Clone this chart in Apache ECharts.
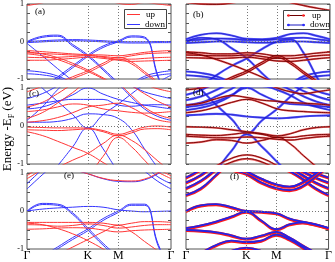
<!DOCTYPE html>
<html><head><meta charset="utf-8">
<script src="https://cdn.jsdelivr.net/npm/echarts@6/dist/echarts.min.js"></script>
<style>html,body{margin:0;padding:0;background:#fff}#c{width:335px;height:262px}</style>
</head><body><div id="c"></div>
<script>
// k-path sample positions (Γ=0, K=1, M=1.5, Γ=2.366)
const kPath = [0, 0.25, 0.5, 0.75, 1.0, 1.25, 1.5, 1.72, 1.93, 2.15, 2.366];
const xTickValues = [0, 1.0, 1.5, 2.366];
const xTickLabels = ['Γ', 'K', 'M', 'Γ'];
const yLabelValues = [-1, 0, 1];
const panelLetters = ['(a)', '(b)', '(c)', '(d)', '(e)', '(f)'];
const spinNames = ['up', 'down'];
const yTitle = ['Energy -E', 'F', ' (eV)'];

// Panel (a)
const aUp = [
  [0.96, 1.03, 1.15, 1.3, 1.35, 1.15, 1.02, 0.99, 1.04, 1.0, 0.96],
  [-0.24, -0.27, -0.3, -0.33, -0.35, -0.36, -0.38, -0.34, -0.29, -0.26, -0.24],
  [-0.3, -0.32, -0.34, -0.36, -0.37, -0.4, -0.43, -0.38, -0.33, -0.31, -0.3],
  [-0.42, -0.43, -0.42, -0.4, -0.38, -0.42, -0.47, -0.47, -0.45, -0.43, -0.42],
  [-0.5, -0.5, -0.48, -0.45, -0.42, -0.45, -0.5, -0.53, -0.52, -0.51, -0.5],
  [-0.28, -0.33, -0.43, -0.58, -0.76, -0.97, -1.2, -1.4, -1.5, -1.45, -1.4],
  [-0.33, -0.38, -0.48, -0.63, -0.8, -1.0, -1.25, -1.45, -1.55, -1.5, -1.45],
  [-1.6, -1.35, -1.12, -0.94, -0.78, -0.58, -0.42, -0.55, -0.8, -1.08, -1.35],
  [-1.65, -1.4, -1.17, -0.99, -0.83, -0.63, -0.47, -0.6, -0.85, -1.12, -1.4]
];
const aDown = [
  [0.0, 0.02, 0.04, 0.05, 0.04, 0.02, 0.0, -0.01, -0.01, 0.0, 0.0],
  [-0.03, -0.01, 0.01, 0.02, 0.01, -0.01, -0.03, -0.04, -0.04, -0.03, -0.03],
  [0.0, 0.14, 0.17, -0.08, -0.36, -0.72, -1.1, -1.4, -1.5, -1.4, -1.3],
  [-0.02, 0.11, 0.14, -0.12, -0.4, -0.76, -1.15, -1.45, -1.55, -1.45, -1.35],
  [-1.6, -1.25, -0.95, -0.65, -0.36, -0.12, 0.02, 0.15, 0.12, -0.9, -1.8],
  [-1.65, -1.3, -1.0, -0.7, -0.4, -0.16, -0.01, 0.12, 0.09, -0.95, -1.85],
  [-0.78, -0.82, -0.92, -1.1, -1.3, -1.4, -1.3, -1.12, -0.93, -0.83, -0.78],
  [-0.86, -0.89, -0.97, -1.15, -1.35, -1.45, -1.35, -1.18, -0.98, -0.9, -0.86],
  [-0.05, -0.38, -0.72, -1.05, -1.4, -1.6, -1.7, -1.6, -1.4, -1.1, -0.9]
];
// Panel (b)
const bUp = [
  [1.05, 1.0, 0.99, 1.03, 1.12, 1.2, 1.15, 1.04, 0.96, 0.89, 0.83],
  [-0.28, -0.3, -0.33, -0.33, -0.3, -0.33, -0.38, -0.38, -0.35, -0.31, -0.28],
  [-0.36, -0.37, -0.38, -0.38, -0.36, -0.4, -0.45, -0.45, -0.42, -0.38, -0.36],
  [-0.43, -0.44, -0.45, -0.44, -0.42, -0.46, -0.52, -0.53, -0.5, -0.46, -0.43],
  [-0.3, -0.36, -0.48, -0.62, -0.78, -0.95, -1.15, -1.35, -1.45, -1.4, -1.35],
  [-1.65, -1.4, -1.15, -0.95, -0.78, -0.55, -0.38, -0.55, -0.8, -1.05, -1.3],
  [-1.7, -1.45, -1.2, -1.0, -0.83, -0.6, -0.43, -0.6, -0.85, -1.1, -1.35]
];
const bDown = [
  [0.06, 0.18, 0.22, 0.16, 0.07, 0.06, 0.1, 0.2, 0.22, 0.15, 0.06],
  [0.02, 0.05, 0.08, 0.07, 0.04, 0.04, 0.06, 0.09, 0.1, 0.06, 0.02],
  [-0.04, -0.02, 0.0, 0.0, -0.02, -0.03, -0.02, 0.0, 0.0, -0.02, -0.04],
  [0.0, 0.1, 0.06, -0.18, -0.45, -0.85, -1.2, -1.45, -1.5, -1.45, -1.4],
  [-1.6, -1.2, -0.9, -0.65, -0.45, -0.2, 0.0, 0.05, -0.3, -0.95, -1.5],
  [-0.8, -0.84, -0.93, -1.1, -1.3, -1.4, -1.3, -1.12, -0.93, -0.84, -0.8],
  [-0.9, -0.93, -1.0, -1.15, -1.35, -1.45, -1.35, -1.18, -1.0, -0.93, -0.9]
];
// Panel (c)
const cUp = [
  [-0.03, -0.04, -0.05, -0.05, -0.06, -0.12, -0.22, -0.13, -0.03, 0.0, -0.03],
  [-0.1, -0.11, -0.12, -0.1, -0.08, -0.15, -0.26, -0.18, -0.08, -0.07, -0.1],
  [-0.15, -0.25, -0.4, -0.56, -0.72, -0.96, -1.2, -1.4, -1.5, -1.45, -1.4],
  [-1.6, -1.35, -1.1, -0.9, -0.72, -0.46, -0.24, -0.38, -0.62, -0.92, -1.2],
  [-2.0, -1.9, -1.8, -1.6, -1.3, -0.8, -0.3, -0.55, -0.9, -1.25, -1.5],
  [0.2, 0.35, 0.6, 0.88, 1.15, 1.2, 1.1, 0.8, 0.5, 0.3, 0.2],
  [0.38, 0.42, 0.5, 0.58, 0.55, 0.45, 0.4, 0.36, 0.34, 0.35, 0.38],
  [0.9, 1.05, 1.25, 1.4, 1.5, 1.45, 1.35, 1.25, 1.1, 0.98, 0.9],
  [0.5, 0.62, 0.85, 1.1, 1.3, 1.3, 1.2, 1.05, 0.85, 0.65, 0.5],
  [0.1, 0.14, 0.22, 0.35, 0.5, 0.55, 0.6, 0.48, 0.3, 0.16, 0.1]
];
const cDown = [
  [1.4, 1.0, 0.65, 0.3, -0.05, 0.3, 0.58, 0.85, 1.1, 1.3, 1.4],
  [-2.0, -1.5, -1.05, -0.55, -0.05, -0.6, -1.2, -1.6, -1.8, -1.9, -2.0],
  [0.45, 0.5, 0.64, 0.82, 1.0, 0.84, 0.7, 0.62, 0.55, 0.5, 0.45],
  [0.55, 0.6, 0.66, 0.7, 0.7, 0.7, 0.55, 0.52, 0.55, 0.56, 0.55],
  [0.15, 0.5, 0.95, 1.3, 1.5, 1.4, 1.1, 0.75, 0.45, 0.25, 0.15],
  [0.72, 0.85, 1.05, 1.25, 1.4, 1.35, 1.2, 1.05, 0.9, 0.8, 0.72],
  [0.1, 0.1, 0.12, 0.2, 0.32, 0.3, 0.2, -0.1, -0.6, -1.1, -1.5]
];
// Panel (d)
const dUp = [
  [-0.02, -0.03, -0.05, -0.1, -0.15, -0.2, -0.26, -0.2, -0.1, -0.04, -0.02],
  [-0.22, -0.24, -0.25, -0.22, -0.18, -0.22, -0.3, -0.3, -0.26, -0.23, -0.22],
  [-0.27, -0.29, -0.31, -0.31, -0.29, -0.31, -0.35, -0.37, -0.33, -0.29, -0.27],
  [-0.45, -0.42, -0.36, -0.38, -0.45, -0.38, -0.3, -0.48, -0.78, -1.08, -1.35],
  [-1.6, -1.35, -1.05, -0.85, -0.76, -0.85, -1.05, -1.3, -1.5, -1.6, -1.6],
  [-1.7, -1.45, -1.15, -0.95, -0.86, -0.95, -1.15, -1.4, -1.6, -1.7, -1.7],
  [0.55, 0.6, 0.72, 0.8, 0.75, 0.68, 0.65, 0.62, 0.6, 0.58, 0.55],
  [0.35, 0.4, 0.5, 0.62, 0.7, 0.6, 0.45, 0.4, 0.38, 0.36, 0.35],
  [0.95, 1.0, 1.1, 1.2, 1.25, 1.15, 1.0, 0.9, 0.85, 0.9, 0.95]
];
const dDown = [
  [1.3, 0.95, 0.55, 0.18, -0.2, 0.15, 0.45, 0.78, 1.05, 1.25, 1.3],
  [-2.0, -1.6, -1.15, -0.65, -0.22, -0.55, -0.95, -1.3, -1.6, -1.8, -2.0],
  [0.5, 0.55, 0.65, 0.82, 1.0, 0.82, 0.65, 0.58, 0.56, 0.53, 0.5],
  [0.82, 0.95, 1.15, 1.35, 1.5, 1.5, 1.45, 1.3, 1.1, 0.92, 0.82],
  [0.68, 0.78, 0.95, 1.15, 1.35, 1.35, 1.25, 1.1, 0.92, 0.78, 0.68],
  [0.55, 0.62, 0.78, 0.98, 1.2, 1.2, 1.1, 0.95, 0.78, 0.64, 0.55],
  [0.42, 0.48, 0.6, 0.8, 1.05, 1.05, 0.95, 0.8, 0.62, 0.5, 0.42],
  [0.28, 0.3, 0.32, 0.3, 0.25, 0.22, 0.2, 0.22, 0.25, 0.27, 0.28]
];
// Panel (e)
const eUp = [
  [0.93, 1.2, 1.5, 1.7, 1.8, 1.7, 1.6, 1.5, 1.3, 1.1, 0.93],
  [0.85, 1.1, 1.4, 1.6, 1.7, 1.6, 1.5, 1.4, 1.2, 1.02, 0.85],
  [1.5, 1.4, 1.25, 1.1, 0.98, 0.86, 0.8, 0.79, 0.84, 1.0, 1.2],
  [-0.3, -0.3, -0.3, -0.3, -0.3, -0.32, -0.37, -0.32, -0.28, -0.28, -0.3],
  [-0.36, -0.37, -0.4, -0.38, -0.34, -0.38, -0.45, -0.42, -0.38, -0.36, -0.36],
  [-0.48, -0.47, -0.45, -0.44, -0.45, -0.5, -0.55, -0.52, -0.5, -0.49, -0.48],
  [-0.32, -0.36, -0.46, -0.6, -0.78, -1.0, -1.25, -1.45, -1.55, -1.5, -1.45],
  [-1.6, -1.4, -1.15, -0.95, -0.75, -0.55, -0.38, -0.55, -0.8, -1.05, -1.3]
];
const eDown = [
  [0.0, 0.05, 0.08, 0.1, 0.12, 0.1, 0.03, 0.0, -0.02, -0.01, 0.0],
  [0.0, 0.2, 0.18, -0.05, -0.45, -0.85, -1.2, -1.45, -1.55, -1.5, -1.45],
  [-0.02, 0.17, 0.15, -0.09, -0.5, -0.9, -1.25, -1.5, -1.6, -1.55, -1.5],
  [-1.5, -1.2, -0.95, -0.7, -0.47, -0.2, 0.0, 0.18, 0.18, -0.85, -1.6],
  [-1.55, -1.25, -1.0, -0.75, -0.52, -0.25, -0.04, 0.15, 0.15, -0.9, -1.65],
  [0.72, 1.1, 1.5, 1.8, 1.9, 1.8, 1.6, 1.4, 1.2, 0.9, 0.72],
  [0.58, 0.95, 1.3, 1.6, 1.8, 1.7, 1.5, 1.3, 1.05, 0.78, 0.58],
  [1.5, 1.4, 1.25, 1.1, 0.98, 0.85, 0.78, 0.77, 0.82, 0.98, 1.2]
];
// Panel (f): both spin channels coincide
const fBands = [
  [0.0, 0.15, 0.18, 0.1, 0.0, -0.02, -0.06, -0.2, -0.28, -0.35, -0.45],
  [-0.45, -0.38, -0.28, -0.15, -0.02, -0.25, -0.48, -0.35, -0.3, -0.36, -0.45],
  [-0.5, -0.52, -0.56, -0.64, -0.73, -0.65, -0.55, -0.7, -0.9, -1.1, -1.3],
  [-1.3, -1.1, -0.9, -0.78, -0.82, -0.78, -0.62, -0.75, -0.95, -1.2, -1.4],
  [-2.0, -1.6, -1.25, -1.05, -0.97, -1.05, -1.25, -1.5, -1.7, -1.8, -1.9],
  [0.88, 1.1, 1.4, 1.6, 1.7, 1.6, 1.5, 1.35, 1.15, 1.0, 0.88],
  [0.75, 0.95, 1.25, 1.5, 1.6, 1.5, 1.4, 1.25, 1.05, 0.88, 0.75],
  [0.6, 0.8, 1.1, 1.4, 1.5, 1.4, 1.3, 1.15, 0.95, 0.75, 0.6],
  [0.42, 0.6, 0.95, 1.3, 1.45, 1.35, 1.2, 1.05, 0.85, 0.6, 0.42],
  [1.6, 1.5, 1.3, 1.1, 0.98, 0.75, 0.6, 0.55, 0.65, 0.9, 1.2],
  [1.65, 1.55, 1.38, 1.18, 1.04, 0.85, 0.7, 0.64, 0.75, 0.98, 1.28]
];

const panels = [
  {up: aUp, down: aDown, kind: 'thin'},
  {up: bUp, down: bDown, kind: 'fat'},
  {up: cUp, down: cDown, kind: 'thin'},
  {up: dUp, down: dDown, kind: 'fat'},
  {up: eUp, down: eDown, kind: 'thin'},
  {up: fBands, down: fBands, kind: 'same'}
];

const FONT = '"Liberation Serif", "DejaVu Serif", serif';
const gridPos = [
  {left: 27, top: 4, width: 144, height: 75},
  {left: 186, top: 4, width: 144, height: 75},
  {left: 27, top: 88, width: 144, height: 76},
  {left: 186, top: 88, width: 144, height: 76},
  {left: 27, top: 173, width: 144, height: 76},
  {left: 186, top: 173, width: 144, height: 76}
];

const grid = [], xAxis = [], yAxis = [], series = [];
gridPos.forEach((g, i) => {
  grid.push(Object.assign({show: true, borderColor: '#555', borderWidth: 1, backgroundColor: 'transparent'}, g));
  const bottomRow = i >= 4;
  xAxis.push({
    type: 'value', gridIndex: i, min: kPath[0], max: kPath[kPath.length - 1],
    axisLine: {show: false}, axisTick: {show: false}, splitLine: {show: false},
    axisLabel: bottomRow ? {
      show: true, customValues: xTickValues, margin: 1,
      fontFamily: FONT, fontSize: 12, color: '#000',
      formatter: v => { let best = 0; xTickValues.forEach((t, j) => { if (Math.abs(t - v) < Math.abs(xTickValues[best] - v)) best = j; }); return xTickLabels[best]; }
    } : {show: false}
  });
  const leftCol = i % 2 === 0;
  yAxis.push({
    type: 'value', gridIndex: i, min: -1, max: 1, interval: 0.25, position: 'left',
    axisLine: {show: false}, splitLine: {show: false},
    axisTick: {show: true, inside: true, length: 3, lineStyle: {color: '#555'}},
    axisLabel: leftCol ? {show: true, margin: 3, fontFamily: FONT, fontSize: 8, color: '#000',
      formatter: v => yLabelValues.some(t => Math.abs(t - v) < 1e-9) ? String(Math.round(v)) : ''} : {show: false}
  });
  yAxis.push({
    type: 'value', gridIndex: i, min: -1, max: 1, interval: 0.25, position: 'right',
    axisLine: {show: false}, splitLine: {show: false}, axisLabel: {show: false},
    axisTick: {show: true, inside: true, length: 3, lineStyle: {color: '#555'}}
  });
  // dotted guide lines at K, M and E_F
  series.push({
    type: 'line', xAxisIndex: i, yAxisIndex: 2 * i, data: [], silent: true, z: 1,
    markLine: {silent: true, symbol: ['none', 'none'], label: {show: false}, animation: false,
      lineStyle: {type: [1, 2], color: '#777', width: 1},
      data: [{xAxis: xTickValues[1]}, {xAxis: xTickValues[2]}, {yAxis: 0}]}
  });
});

function bandSeries(band, gi, style, z) {
  return {
    type: 'line', xAxisIndex: gi, yAxisIndex: 2 * gi, smooth: 0.45, showSymbol: false,
    silent: true, animation: false, z: z, clip: true,
    data: kPath.map((k, j) => [k, band[j]]), lineStyle: style
  };
}

panels.forEach((p, gi) => {
  if (p.kind === 'thin') {
    p.down.forEach(b => series.push(bandSeries(b, gi, {color: '#3535ff', width: 1}, 2)));
    p.up.forEach(b => series.push(bandSeries(b, gi, {color: '#ff3535', width: 1}, 3)));
  } else if (p.kind === 'fat') {
    p.down.forEach(b => {
      series.push(bandSeries(b, gi, {color: '#3a3aff', width: 2.2, opacity: 0.85}, 2));
      series.push(bandSeries(b, gi, {color: '#1a1ac0', width: 0.7}, 3));
    });
    p.up.forEach(b => {
      series.push(bandSeries(b, gi, {color: '#e83030', width: 1.9, opacity: 0.75}, 4));
      series.push(bandSeries(b, gi, {color: '#700000', width: 0.9}, 5));
    });
  } else {
    p.up.forEach(b => series.push(bandSeries(b, gi, {color: '#ff1a1a', width: 2}, 2)));
    p.down.forEach(b => series.push(bandSeries(b, gi, {color: '#2323e6', width: 1.8,
      shadowColor: '#ff1a1a', shadowOffsetY: 1.2, shadowBlur: 0}, 3)));
  }
});

const letterPos = [[35, 12], [193, 15], [29, 94], [193, 93], [64, 176], [230, 177]];
const graphic = [];
panelLetters.forEach((t, i) => graphic.push({type: 'text', x: letterPos[i][0], y: letterPos[i][1], z: 50,
  style: {text: t, font: '9px ' + FONT, fill: '#000', textAlign: 'left', textVerticalAlign: 'middle', verticalAlign: 'middle'}}));

// legend (a)
graphic.push({type: 'rect', shape: {x: 124.5, y: 9.5, width: 42, height: 19}, z: 60, style: {fill: '#fff', stroke: '#444', lineWidth: 1}});
graphic.push({type: 'line', shape: {x1: 127, y1: 14.5, x2: 140, y2: 14.5}, z: 61, style: {stroke: '#ff3535', lineWidth: 1}});
graphic.push({type: 'line', shape: {x1: 127, y1: 24.5, x2: 140, y2: 24.5}, z: 61, style: {stroke: '#3535ff', lineWidth: 1}});
graphic.push({type: 'text', x: 146, y: 14.5, z: 61, style: {text: spinNames[0], font: '9px ' + FONT, fill: '#000', textVerticalAlign: 'middle', verticalAlign: 'middle'}});
graphic.push({type: 'text', x: 145, y: 24.5, z: 61, style: {text: spinNames[1], font: '9px ' + FONT, fill: '#000', textVerticalAlign: 'middle', verticalAlign: 'middle'}});
// legend (b)
graphic.push({type: 'rect', shape: {x: 283.5, y: 10.5, width: 46, height: 19}, z: 60, style: {fill: '#fff', stroke: '#444', lineWidth: 1}});
graphic.push({type: 'line', shape: {x1: 287, y1: 15.5, x2: 305, y2: 15.5}, z: 61, style: {stroke: '#700000', lineWidth: 1}});
graphic.push({type: 'line', shape: {x1: 287, y1: 25, x2: 305, y2: 25}, z: 61, style: {stroke: '#1a1ac0', lineWidth: 1}});
[[288.5, 15.5, '#ff2020'], [303.5, 15.5, '#ff2020'], [288.5, 25, '#2b2bff'], [303.5, 25, '#2b2bff']].forEach(c =>
  graphic.push({type: 'circle', shape: {cx: c[0], cy: c[1], r: 1.3}, z: 62, style: {fill: c[2]}}));
graphic.push({type: 'text', x: 312, y: 15.5, z: 61, style: {text: spinNames[0], font: '9px ' + FONT, fill: '#000', textVerticalAlign: 'middle', verticalAlign: 'middle'}});
graphic.push({type: 'text', x: 310, y: 25, z: 61, style: {text: spinNames[1], font: '9px ' + FONT, fill: '#000', textVerticalAlign: 'middle', verticalAlign: 'middle'}});

// y-axis title
graphic.push({type: 'text', x: 8, y: 129, rotation: Math.PI / 2, z: 61,
  style: {text: '{a|' + yTitle[0] + '}{s|' + yTitle[1] + '}{a|' + yTitle[2] + '}',
    align: 'center', verticalAlign: 'middle', textAlign: 'center', textVerticalAlign: 'middle', fill: '#000',
    rich: {a: {fontFamily: FONT, fontSize: 13, fill: '#000', lineHeight: 16},
           s: {fontFamily: FONT, fontSize: 8, fill: '#000', lineHeight: 16, verticalAlign: 'bottom', padding: [6, 0, 0, 0]}}}});

const chart = echarts.init(document.getElementById('c'), null, {renderer: 'canvas'});
chart.setOption({animation: false, backgroundColor: '#fff', grid, xAxis, yAxis, series, graphic});
</script></body></html>
